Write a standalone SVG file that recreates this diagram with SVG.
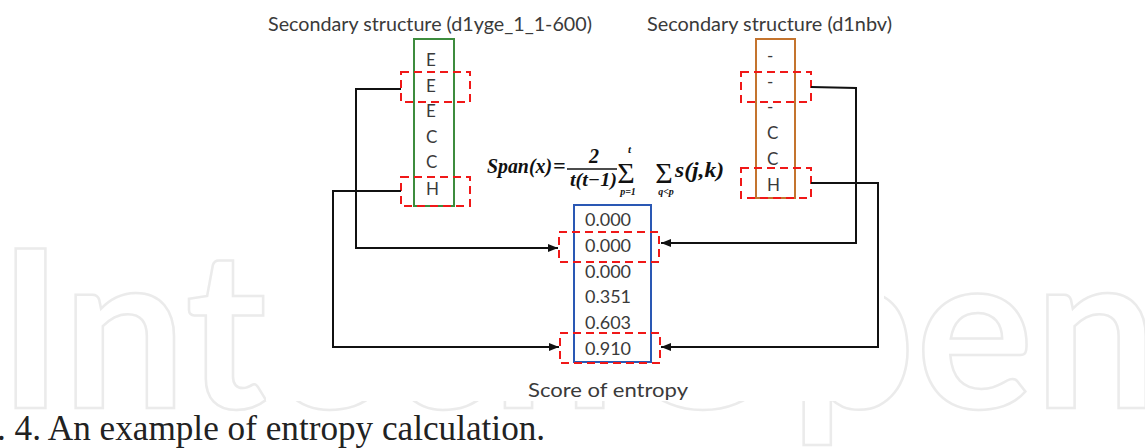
<svg xmlns="http://www.w3.org/2000/svg" width="1145" height="448" viewBox="0 0 1145 448">
<style>
.wm{font-family:Lato,"Open Sans",sans-serif;font-weight:700;font-size:220px;fill:none;stroke:#ebebeb;stroke-width:2.5}
.lbl{font-family:Lato,"Open Sans","Liberation Sans",sans-serif;fill:#3a3a3a}
.ttl{font-size:19.5px}
.ch{font-size:17px}
.val{font-size:18px}
.f{font-family:"Liberation Serif","DejaVu Serif",serif;font-weight:700;font-style:italic;fill:#111}
.sig{font-family:"Liberation Serif","DejaVu Serif",serif;font-size:30px;fill:#111}
.red{fill:none;stroke:#f01818;stroke-width:2;stroke-dasharray:8 5}
.con{fill:none;stroke:#111;stroke-width:2}
.cap{font-family:"Liberation Serif","DejaVu Serif",serif;font-size:35.2px;fill:#222}
</style>
<defs>
<marker id="ah" markerUnits="userSpaceOnUse" markerWidth="10" markerHeight="8" viewBox="0 0 10 8" refX="10" refY="4" orient="auto">
<path d="M0,0 L10,4 L0,8 z" fill="#111"/>
</marker>
</defs>
<rect x="0" y="0" width="1145" height="448" fill="#fff"/>
<g id="watermark">
<text class="wm" x="-2" y="408" textLength="1160" lengthAdjust="spacing">IntechOpen</text>
</g>
<rect x="266" y="0" width="618" height="401" fill="#fff"/>
<g id="title-left"><text class="lbl ttl" x="268" y="31" textLength="324" lengthAdjust="spacingAndGlyphs">Secondary structure (d1yge_1_1-600)</text></g>
<g id="title-right"><text class="lbl ttl" x="647" y="31" textLength="245" lengthAdjust="spacingAndGlyphs">Secondary structure (d1nbv)</text></g>
<g id="left-column">
<rect x="414" y="39" width="40" height="167" fill="none" stroke="#3d8c3d" stroke-width="2"/>
<text class="lbl ch" x="426" y="66">E</text>
<text class="lbl ch" x="426" y="92">E</text>
<text class="lbl ch" x="426" y="117">E</text>
<text class="lbl ch" x="426" y="143">C</text>
<text class="lbl ch" x="426" y="168">C</text>
<text class="lbl ch" x="426" y="195">H</text>
<rect class="red" x="401" y="72" width="69" height="30"/>
<rect class="red" x="401" y="177" width="69" height="29"/>
</g>
<g id="right-column">
<rect x="756" y="39" width="39" height="159" fill="none" stroke="#c4742e" stroke-width="2"/>
<text class="lbl ch" x="767" y="62">-</text>
<text class="lbl ch" x="767" y="88">-</text>
<text class="lbl ch" x="767" y="113">-</text>
<text class="lbl ch" x="767" y="139">C</text>
<text class="lbl ch" x="767" y="165">C</text>
<text class="lbl ch" x="767" y="191">H</text>
<rect class="red" x="741" y="72" width="70" height="30"/>
<rect class="red" x="741" y="168" width="70" height="30"/>
</g>
<g id="formula">
<text class="f" x="487" y="173" font-size="22" textLength="65" lengthAdjust="spacingAndGlyphs">Span(x)</text>
<text class="f" x="553" y="173" font-size="22" font-style="normal">=</text>
<text class="f" x="594" y="163" font-size="20" font-style="normal" text-anchor="middle">2</text>
<line x1="567" y1="169" x2="617" y2="169" stroke="#111" stroke-width="1.6"/>
<text class="f" x="570" y="186" font-size="19" textLength="47" lengthAdjust="spacingAndGlyphs">t(t−1)</text>
<text class="sig" x="626" y="183" text-anchor="middle">Σ</text>
<text class="f" x="628" y="153" font-size="11">t</text>
<text class="f" x="628" y="195" font-size="10" text-anchor="middle">p=1</text>
<text class="sig" x="664" y="183" text-anchor="middle">Σ</text>
<text class="f" x="666" y="195" font-size="10" text-anchor="middle">q&lt;p</text>
<text class="f" x="675" y="177" font-size="22" textLength="49" lengthAdjust="spacingAndGlyphs">s(j,k)</text>
</g>
<g id="score-column">
<rect x="574" y="205" width="77" height="157" fill="none" stroke="#2a58b4" stroke-width="2"/>
<text class="lbl val" x="585" y="226">0.000</text>
<text class="lbl val" x="585" y="252">0.000</text>
<text class="lbl val" x="585" y="278">0.000</text>
<text class="lbl val" x="585" y="303">0.351</text>
<text class="lbl val" x="585" y="329">0.603</text>
<text class="lbl val" x="585" y="355">0.910</text>
<rect class="red" x="559" y="232" width="100" height="30"/>
<rect class="red" x="560" y="333" width="100" height="30"/>
<text class="lbl" x="528" y="397" font-size="20" textLength="160" lengthAdjust="spacingAndGlyphs">Score of entropy</text>
</g>
<g id="connectors">
<polyline class="con" points="401,89 356,89 356,248 558,248" marker-end="url(#ah)"/>
<polyline class="con" points="401,191 333,191 333,347 559,347" marker-end="url(#ah)"/>
<polyline class="con" points="811,87 856,88 856,243 661,243" marker-end="url(#ah)"/>
<polyline class="con" points="811,183 878,183 878,347 661,347" marker-end="url(#ah)"/>
</g>
<g id="caption">
<text class="cap" x="-50" y="440">Fig. 4. An example of entropy calculation.</text>
</g>
</svg>
